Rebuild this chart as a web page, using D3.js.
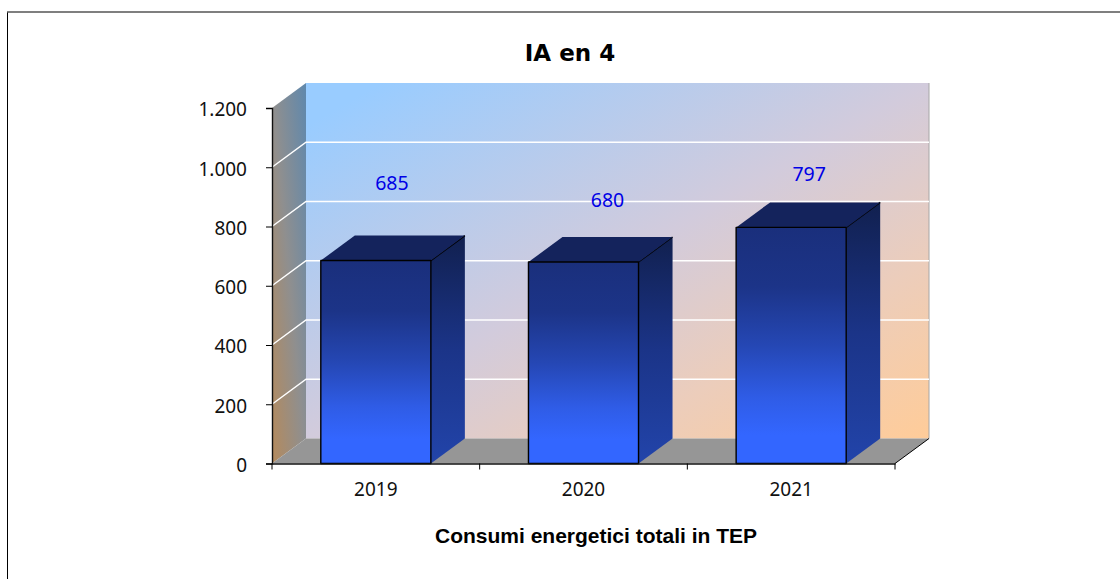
<!DOCTYPE html>
<html>
<head>
<meta charset="utf-8">
<script src="https://cdnjs.cloudflare.com/ajax/libs/d3/7.8.5/d3.min.js"></script>
<style>
    html, body { margin: 0; padding: 0; background: #fff; }
    svg { display: block; }
</style>
</head>
<body>
<div class="chart"></div>
<script>
// Chart data
let years = ["2019", "2020", "2021"];
let consumption = [685, 680, 797];
let yTicks = [0, 200, 400, 600, 800, 1000, 1200];

let titleText = "IA en 4";
let xTitleText = "Consumi energetici totali in TEP";

// Data labels were moved by hand in the original chart, measured from the bar's back top edge
let labelNudge = [[-73, -52], [-65, -37], [-71, -28]];

// Preliminary Variable Setup
let svgWidth = 1120;
let svgHeight = 579;

let plot = { left: 272, right: 895, top: 108, bottom: 463.5 };
let depth = { x: 34, y: -25 };

let svg = d3
    .select(".chart")
    .append("svg")
    .attr("width", svgWidth)
    .attr("height", svgHeight);

let xScale = d3.scaleBand()
    .domain(years)
    .range([plot.left, plot.right]);

let yScale = d3.scaleLinear()
    .domain([0, 1200])
    .range([plot.bottom, plot.top]);

let barWidth = xScale.bandwidth() * 0.53;
let barX = d => xScale(d) + (xScale.bandwidth() - barWidth) / 2;

// Italian thousands separator
let itFormat = d3.formatLocale({ decimal: ",", thousands: ".", grouping: [3], currency: ["€", ""] }).format(",d");

let poly = pts => pts.map(p => p.join(",")).join(" ");

// Gradients
let defs = svg.append("defs");

function addGradient(id, x1, y1, x2, y2, stops) {
    let g = defs.append("linearGradient")
        .attr("id", id)
        .attr("x1", x1).attr("y1", y1)
        .attr("x2", x2).attr("y2", y2);
    stops.forEach(s => g.append("stop").attr("offset", s[0]).attr("stop-color", s[1]));
}

addGradient("wallGrad", "0%", "0%", "100%", "100%", [[0.06, "#99ccff"], [0.5, "#d2cbdc"], [0.75, "#eccdbb"], [1, "#ffcc99"]]);
addGradient("sideWallGrad", "100%", "0%", "0%", "100%", [[0, "#5f88ad"], [0.5, "#8f8f8f"], [1, "#b58a5c"]]);
addGradient("frontGrad", "0%", "0%", "0%", "100%", [[0, "#1a2f7c"], [0.25, "#1c3488"], [0.5, "#2547b4"], [0.72, "#2f5ce6"], [0.88, "#3366ff"]]);
addGradient("sideGrad", "0%", "0%", "0%", "100%", [[0, "#11204f"], [0.5, "#1b3488"], [1, "#2244aa"]]);

// Outer frame, only left and top show in the picture
svg.append("line")
    .attr("x1", 7.5).attr("x2", 7.5)
    .attr("y1", 12).attr("y2", 579)
    .attr("stroke", "#000");

svg.append("line")
    .attr("x1", 7).attr("x2", 1120)
    .attr("y1", 12).attr("y2", 12)
    .attr("stroke", "#555")
    .attr("stroke-width", 1.6);

let y0 = yScale(0);
let yTop = yScale(1200);
let left = plot.left;
let right = plot.right;

// Back wall
svg.append("rect")
    .attr("x", left + depth.x)
    .attr("y", yTop + depth.y)
    .attr("width", right - left)
    .attr("height", y0 - yTop)
    .attr("fill", "url(#wallGrad)");

svg.append("line")
    .attr("x1", right + depth.x).attr("x2", right + depth.x)
    .attr("y1", yTop + depth.y).attr("y2", y0 + depth.y)
    .attr("stroke", "#a6a6a6");

// Side wall
svg.append("polygon")
    .attr("points", poly([[left, yTop], [left + depth.x, yTop + depth.y], [left + depth.x, y0 + depth.y], [left, y0]]))
    .attr("fill", "url(#sideWallGrad)");

// Floor
svg.append("polygon")
    .attr("points", poly([[left, y0], [left + depth.x, y0 + depth.y], [right + depth.x, y0 + depth.y], [right, y0]]))
    .attr("fill", "#969696");

svg.append("line")
    .attr("x1", right).attr("y1", y0)
    .attr("x2", right + depth.x).attr("y2", y0 + depth.y)
    .attr("stroke", "#000");

// Gridlines
svg.append("g")
    .selectAll("polyline")
    .data(yTicks.filter(d => d > 0 && d < 1200))
    .enter()
    .append("polyline")
    .attr("points", d => poly([[left, yScale(d)], [left + depth.x, yScale(d) + depth.y], [right + depth.x, yScale(d) + depth.y]]))
    .attr("fill", "none")
    .attr("stroke", "#fff")
    .attr("stroke-width", 1.5);

// Bars
let barData = years.map((year, i) => ({ year: year, value: consumption[i], nudge: labelNudge[i] }));

let bars = svg.append("g")
    .selectAll("g")
    .data(barData)
    .enter()
    .append("g")
    .attr("stroke", "#000")
    .attr("stroke-width", 1.4)
    .attr("stroke-linejoin", "round");

bars.append("polygon")
    .attr("points", d => {
        let x1 = barX(d.year) + barWidth;
        return poly([[x1, yScale(d.value)], [x1 + depth.x, yScale(d.value) + depth.y], [x1 + depth.x, y0 + depth.y], [x1, y0]]);
    })
    .attr("fill", "url(#sideGrad)")
    .attr("stroke", "none");

// Only the front top corner edge of the side face is outlined
bars.append("line")
    .attr("x1", d => barX(d.year) + barWidth)
    .attr("y1", d => yScale(d.value))
    .attr("x2", d => barX(d.year) + barWidth + depth.x)
    .attr("y2", d => yScale(d.value) + depth.y);

bars.append("polygon")
    .attr("points", d => {
        let x0 = barX(d.year);
        let y = yScale(d.value);
        return poly([[x0, y], [x0 + depth.x, y + depth.y], [x0 + barWidth + depth.x, y + depth.y], [x0 + barWidth, y]]);
    })
    .attr("fill", "#14235c")
    .attr("stroke", "none");

bars.append("rect")
    .attr("x", d => barX(d.year))
    .attr("y", d => yScale(d.value))
    .attr("width", barWidth)
    .attr("height", d => y0 - yScale(d.value))
    .attr("fill", "url(#frontGrad)");

// Data labels
svg.append("g")
    .selectAll("text")
    .data(barData)
    .enter()
    .append("text")
    .attr("x", d => barX(d.year) + barWidth + depth.x + d.nudge[0])
    .attr("y", d => yScale(d.value) + depth.y + d.nudge[1])
    .attr("dy", "0.35em")
    .attr("text-anchor", "middle")
    .attr("font-family", "'Noto Sans', sans-serif")
    .attr("font-size", 19.5)
    .attr("fill", "#0000e6")
    .text(d => d.value);

// Axes
let leftAxis = d3.axisLeft(yScale)
    .tickValues(yTicks)
    .tickFormat(itFormat)
    .tickSize(6)
    .tickPadding(19);

let yAxis = svg.append("g")
    .attr("transform", `translate(${left}, 0)`)
    .call(leftAxis);

let bottomAxis = d3.axisBottom(xScale)
    .tickSize(0)
    .tickPadding(19);

let xAxis = svg.append("g")
    .attr("transform", `translate(0, ${y0})`)
    .call(bottomAxis);

// Category boundary ticks
xAxis.selectAll(".boundary")
    .data([...years.map(d => xScale(d)), right])
    .enter()
    .append("line")
    .attr("class", "boundary")
    .attr("x1", d => d).attr("x2", d => d)
    .attr("y1", 0).attr("y2", 6)
    .attr("stroke", "#000");

[yAxis, xAxis].forEach(axis => {
    axis.selectAll("text")
        .attr("font-family", "'Noto Sans', sans-serif")
        .attr("font-size", 19)
        .attr("fill", "#111");
    axis.selectAll(".domain").attr("stroke", "#111").attr("stroke-width", 1.4);
});

yAxis.selectAll("text").attr("dy", "0.42em");

// Titles
svg.append("text")
    .attr("x", 570)
    .attr("y", 61)
    .attr("text-anchor", "middle")
    .attr("font-family", "'DejaVu Sans', sans-serif")
    .attr("font-weight", "bold")
    .attr("font-size", 23)
    .attr("fill", "#000")
    .text(titleText);

svg.append("text")
    .attr("x", 596)
    .attr("y", 543)
    .attr("text-anchor", "middle")
    .attr("font-family", "'Liberation Sans', Arial, sans-serif")
    .attr("font-weight", "bold")
    .attr("font-size", 21)
    .attr("fill", "#000")
    .text(xTitleText);
</script>
</body>
</html>
